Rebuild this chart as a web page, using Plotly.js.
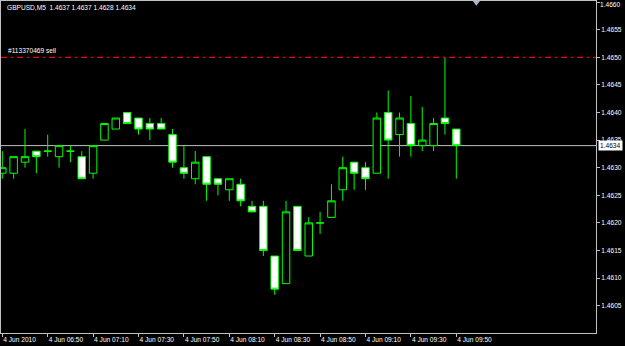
<!DOCTYPE html>
<html>
<head>
<meta charset="utf-8">
<script src="https://cdn.plot.ly/plotly-3.0.1.min.js"></script>
<style>
  html, body { margin: 0; padding: 0; background: #000; }
  #chart { width: 625px; height: 346px; }
</style>
</head>
<body>
<div id="chart"></div>
<script>
// ---- data (GBPUSD, M5, 4 Jun 2010) ----
const symbol = "GBPUSD,M5";
const times = ["06:30","06:35","06:40","06:45","06:50","06:55","07:00","07:05","07:10","07:15",
               "07:20","07:25","07:30","07:35","07:40","07:45","07:50","07:55","08:00","08:05",
               "08:10","08:15","08:20","08:25","08:30","08:35","08:40","08:45","08:50","08:55",
               "09:00","09:05","09:10","09:15","09:20","09:25","09:30","09:35","09:40","09:45","09:50"];
const openP  = [1.4629,1.4629,1.4631,1.4633,1.4633,1.4632,1.4633,1.4632,1.4629,1.4635,
                1.4637,1.4640,1.4639,1.4638,1.4638,1.4636,1.4630,1.4628,1.4632,1.4628,
                1.4626,1.4627,1.4623,1.4623,1.4614,1.4609,1.4623,1.4614,1.4620,1.4621,
                1.4626,1.4631,1.4630,1.4629,1.4640,1.4636,1.4638,1.4634,1.4634,1.4639,1.4637];
const highP  = [1.4633,1.4632,1.4637,1.4633,1.4636,1.4634,1.4634,1.4633,1.4634,1.4638,
                1.4639,1.4640,1.4639,1.4639,1.4639,1.4637,1.4634,1.4633,1.4632,1.4628,
                1.4628,1.4628,1.4624,1.4624,1.4614,1.4624,1.4623,1.4621,1.4622,1.4627,
                1.4632,1.4631,1.4631,1.4640,1.4644,1.4640,1.4643,1.4641,1.4639,1.4650,1.4637];
const lowP   = [1.4628,1.4628,1.4630,1.4629,1.4632,1.4630,1.4631,1.4628,1.4628,1.4635,
                1.4637,1.4638,1.4636,1.4635,1.4637,1.4630,1.4628,1.4627,1.4624,1.4625,
                1.4624,1.4623,1.4622,1.4614,1.4607,1.4609,1.4615,1.4614,1.4618,1.4621,
                1.4624,1.4626,1.4626,1.4629,1.4628,1.4632,1.4632,1.4633,1.4633,1.4636,1.4628];
const closeP = [1.4630,1.4632,1.4632,1.4632,1.4633,1.4634,1.4633,1.4628,1.4634,1.4638,
                1.4639,1.4638,1.4637,1.4637,1.4637,1.4631,1.4629,1.4631,1.4627,1.4627,
                1.4628,1.4624,1.4622,1.4615,1.4608,1.4622,1.4615,1.4620,1.4620,1.4624,
                1.4630,1.4629,1.4628,1.4639,1.4635,1.4639,1.4634,1.4635,1.4638,1.4638,1.4634];
const bidPrice = 1.4634;
const orderPrice = 1.4650;
const orderLabel = "#113370469 sell";
const yTickVals = [1.4605,1.4610,1.4615,1.4620,1.4625,1.4630,1.4635,1.4640,1.4645,1.4650,1.4655,1.4660];
const xTickTimes = ["06:30","06:50","07:10","07:30","07:50","08:10","08:30","08:50","09:10","09:30","09:50"];
const xTickText  = ["4 Jun 2010","4 Jun 06:50","4 Jun 07:10","4 Jun 07:30","4 Jun 07:50","4 Jun 08:10",
                    "4 Jun 08:30","4 Jun 08:50","4 Jun 09:10","4 Jun 09:30","4 Jun 09:50"];
const day = "2010-06-04 ";

// ---- drawing ----
const FONT = "Liberation Sans, Arial, sans-serif";
const GREY = "#c0c0c0";
const x = times.map(t => day + t);
const n = closeP.length - 1;
const header = symbol + "\u00a0\u00a0" + [openP[n], highP[n], lowP[n], closeP[n]].map(v => v.toFixed(4)).join(" ");
const topTick = yTickVals[yTickVals.length - 1];
// the top tick label sits at the very edge; draw it as an annotation anchored inside the page
const yTickText = yTickVals.map(v => v === topTick ? "" : v.toFixed(4));

const trace = {
  type: "candlestick",
  x: x, open: openP, high: highP, low: lowP, close: closeP,
  increasing: { line: { color: "#00ff00", width: 1 }, fillcolor: "#000000" },
  decreasing: { line: { color: "#00ff00", width: 1 }, fillcolor: "#ffffff" },
  whiskerwidth: 0,
  hoverinfo: "skip"
};

const layout = {
  width: 625, height: 346,
  margin: { l: 1, r: 29, t: 1, b: 13, pad: 0 },
  paper_bgcolor: "#000000",
  plot_bgcolor: "#000000",
  showlegend: false,
  boxgap: 0.34, boxgroupgap: 0,
  font: { family: FONT, size: 6.6, color: "#ffffff" },
  xaxis: {
    type: "date",
    range: [day + "06:29:25.6", day + "10:51:33"],
    rangeslider: { visible: false },
    showgrid: false, zeroline: false,
    showline: true, mirror: true, linecolor: GREY, linewidth: 1,
    ticks: "outside", ticklen: 3, tickcolor: GREY, tickwidth: 1,
    tickmode: "array",
    tickvals: xTickTimes.map(t => day + t),
    ticktext: xTickText,
    ticklabelposition: "outside right",
    tickfont: { family: FONT, size: 6.6, color: "#ffffff" },
    fixedrange: true
  },
  yaxis: {
    side: "right",
    range: [1.4600054, 1.4660199],
    showgrid: false, zeroline: false,
    showline: true, mirror: true, linecolor: GREY, linewidth: 1,
    ticks: "outside", ticklen: 3, tickcolor: GREY, tickwidth: 1,
    tickmode: "array",
    tickvals: yTickVals,
    ticktext: yTickText,
    ticklabeloverflow: "allow",
    tickfont: { family: FONT, size: 6.6, color: "#ffffff" },
    fixedrange: true
  },
  shapes: [
    { type: "line", xref: "paper", yref: "y", x0: 0, x1: 1, y0: bidPrice, y1: bidPrice,
      line: { color: GREY, width: 1 }, layer: "below" },
    { type: "line", xref: "paper", yref: "y", x0: 0, x1: 1, y0: orderPrice, y1: orderPrice,
      line: { color: "#ff0000", width: 1.2, dash: "6px,4px,2px,4px" }, layer: "above" },
    { type: "path", xref: "paper", yref: "paper",
      path: "M 0.7928,1 L 0.8050,1 L 0.7989,0.986 Z",
      fillcolor: "#a8b4c4", line: { width: 0 } }
  ],
  annotations: [
    { xref: "paper", yref: "paper", x: 0.0067, y: 0.979, xanchor: "left", yanchor: "middle",
      text: header, showarrow: false, font: { family: FONT, size: 6.6, color: "#ffffff" } },
    { xref: "paper", yref: "y", x: 0.0084, y: orderPrice, xanchor: "left", yanchor: "bottom",
      yshift: 1, text: orderLabel, showarrow: false,
      font: { family: FONT, size: 6.6, color: "#ffffff" } },
    { xref: "paper", yref: "y", x: 1, y: bidPrice, xanchor: "left", yanchor: "middle",
      xshift: 2, text: bidPrice.toFixed(4), showarrow: false, bgcolor: "#ffffff",
      borderpad: 1, font: { family: FONT, size: 6.6, color: "#000000" } },
    { xref: "paper", yref: "paper", x: 1, y: 1, xanchor: "left", yanchor: "top",
      xshift: 3, yshift: 1, text: topTick.toFixed(4), showarrow: false, borderpad: 0,
      font: { family: FONT, size: 6.6, color: "#ffffff" } }
  ]
};

Plotly.newPlot("chart", [trace], layout, { displayModeBar: false, staticPlot: true });
</script>
</body>
</html>
